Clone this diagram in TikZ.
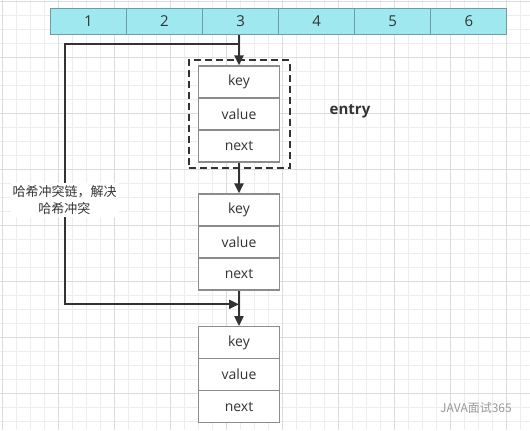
\documentclass[tikz,border=0pt]{standalone}
\usepackage{fontspec}
\setmainfont{Open Sans}
\newfontfamily\cjk{Noto Sans CJK SC}
\usetikzlibrary{arrows.meta,fit}

\definecolor{bucketFill}{HTML}{A0E8F0}
\definecolor{bucketLine}{HTML}{6F9CA3}
\definecolor{fieldLine}{HTML}{8C8C8C}
\definecolor{linkColor}{HTML}{333333}
\definecolor{gridMinor}{HTML}{EDEDED}
\definecolor{gridMajor}{HTML}{DCDCDC}

\tikzset{
  bucket/.style={draw=bucketLine, fill=bucketFill, line width=0.5pt,
    minimum width=38.1pt, minimum height=13pt, inner sep=0pt,
    font=\fontsize{7.5}{9}\selectfont, text=linkColor},
  field/.style={draw=fieldLine, fill=white, line width=0.6pt,
    minimum width=40.5pt, minimum height=16pt, inner sep=0pt,
    font=\fontsize{7}{8}\selectfont, text=linkColor},
  entrybox/.style={draw=linkColor, line width=1pt, dash pattern=on 3.5pt off 2pt,
    inner xsep=4.7pt, inner ysep=2.6pt},
  link/.style={draw=linkColor, line width=1pt, -{Triangle[length=5pt,width=4.5pt]}},
  note/.style={fill=white, inner sep=1pt, align=center, text=linkColor,
    font=\cjk\fontsize{6.5}{8.75}\selectfont},
}

\begin{document}
\begin{tikzpicture}[x=0.5pt, y=-0.5pt]
\useasboundingbox (0,0) rectangle (530,430);
% Canvas grid
\begin{scope}[draw=gridMinor, line width=0.5pt]
  \foreach \gx in {2,16,...,530} \draw (\gx,0) -- (\gx,430);
  \foreach \gy in {1,15,...,430} \draw (0,\gy) -- (530,\gy);
\end{scope}
\begin{scope}[draw=gridMajor, line width=0.5pt]
  \foreach \gx in {2,58,...,530} \draw (\gx,0) -- (\gx,430);
  \foreach \gy in {1,57,...,430} \draw (0,\gy) -- (530,\gy);
\end{scope}
% Bucket array
\node[bucket] (b1) at (88.35,21) {1};
\node[bucket] (b2) at (164.45,21) {2};
\node[bucket] (b3) at (240.55,21) {3};
\node[bucket] (b4) at (316.65,21) {4};
\node[bucket] (b5) at (392.75,21) {5};
\node[bucket] (b6) at (468.85,21) {6};
% Entries
\node[field] (e1k) at (239,82) {key};
\node[field] (e1v) at (239,114) {value};
\node[field] (e1n) at (239,146) {next};
\node[field] (e2k) at (239,210) {key};
\node[field] (e2v) at (239,242) {value};
\node[field] (e2n) at (239,274) {next};
\node[field] (e3k) at (239,342.7) {key};
\node[field] (e3v) at (239,374.7) {value};
\node[field] (e3n) at (239,406.7) {next};
\node[entrybox, fit=(e1k)(e1n)] (entry1) {};
\node[font=\bfseries\fontsize{7.5}{9}\selectfont, text=linkColor] (entryname) at (350,111.7) {entry};
% Links
\coordinate (fork) at (239,44);
\coordinate (join) at (239,304.3);
\node[note] (chain) at (64.5,200) {哈希冲突链，解决\\哈希冲突};
\draw[link] (e1k.north |- b3.south) -- (e1k.north);
\draw[link] (fork) -| (chain) |- (join);
\draw[link] (e1n.south) -- (e2k.north);
\draw[link] (e2n.south) -- (e3k.north);
% Watermark
\node[text=black!40, font=\cjk\fontsize{6}{7}\selectfont] (mark) at (476,408) {JAVA面试365};
\end{tikzpicture}
\end{document}
